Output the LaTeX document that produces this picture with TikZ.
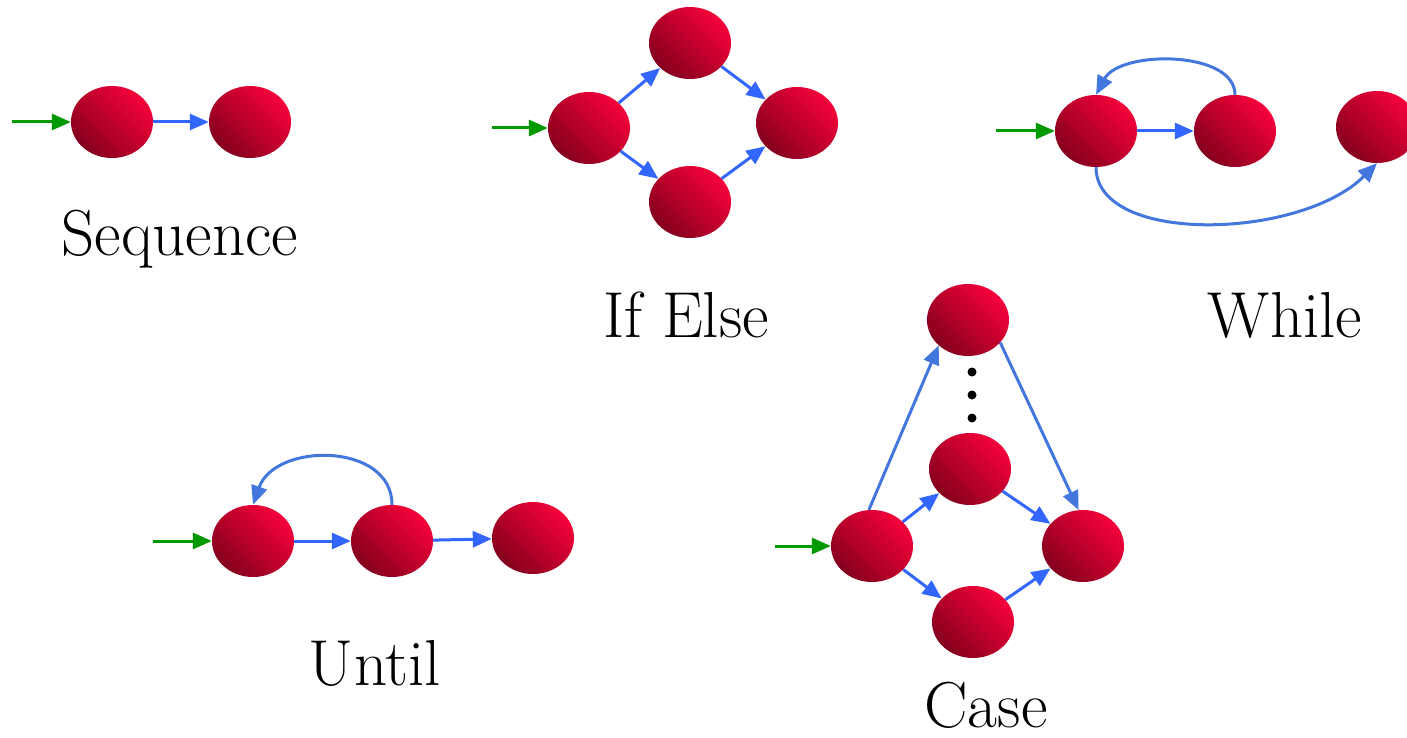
\documentclass[tikz,border=0pt]{standalone}
\usepackage{fontspec}
\usetikzlibrary{shapes.geometric,arrows.meta}
\definecolor{redhi}{HTML}{F6003A}
\definecolor{redlo}{HTML}{85001E}
\definecolor{edgeblue}{HTML}{3366FF}
\definecolor{curveblue}{HTML}{4477DD}
\definecolor{entrygreen}{HTML}{009900}
\tikzset{
  st/.style={ellipse, minimum width=82pt, minimum height=72pt, inner sep=0pt,
    bottom color=redlo, top color=redhi, shading angle=-45},
  flow/.style={draw=edgeblue, line width=3pt, -{Triangle[length=19pt,width=16pt]}},
  loopedge/.style={draw=curveblue, line width=3pt, -{Triangle[length=19pt,width=16pt]}},
  entry/.style={draw=entrygreen, line width=3pt, -{Triangle[length=19pt,width=16pt]}},
  lbl/.style={font=\rmfamily\fontsize{65}{70}\selectfont, inner sep=0pt, anchor=base},
  dot/.style={fill=black}
}
\begin{document}
\begin{tikzpicture}[x=1pt,y=-1pt]
\useasboundingbox (0,0) rectangle (1407,738);
% Sequence
\node[st] (sa) at (112,122) {};
\node[st] (sb) at (250,122) {};
\coordinate (sin) at (12,122);
\draw[entry] (sin) -- (sa);
\draw[flow] (sa) -- (sb);
\node[lbl] (tseq) at (180,255) {Sequence};
% If Else
\node[st] (il) at (589,128) {};
\node[st] (it) at (690,43) {};
\node[st] (ib) at (690,202) {};
\node[st] (ir) at (797,123) {};
\coordinate (iin) at (492,128);
\draw[entry] (iin) -- (il);
\draw[flow] (il) -- (it);
\draw[flow] (il) -- (ib);
\draw[flow] (it) -- (ir);
\draw[flow] (ib) -- (ir);
\node[lbl] (tif) at (686,337) {If Else};
% While
\node[st] (w1) at (1096,131) {};
\node[st] (w2) at (1235,131) {};
\node[st] (w3) at (1377,127) {};
\coordinate (win) at (996,131);
\draw[entry] (win) -- (w1);
\draw[flow] (w1) -- (w2);
\draw[loopedge] (w2.north) .. controls (1235,50) and (1120,50) .. (w1.north);
\draw[loopedge] (w1.south) .. controls (1096,245) and (1300,240) .. (w3.south);
\node[lbl] (twh) at (1285,337) {While};
% Until
\node[st] (u1) at (253,541) {};
\node[st] (u2) at (392,541) {};
\node[st] (u3) at (533,538) {};
\coordinate (uin) at (153,541);
\draw[entry] (uin) -- (u1);
\draw[flow] (u1) -- (u2);
\draw[flow] (u2) -- (u3);
\draw[loopedge] (u2.north) .. controls (392,442) and (275,442) .. (u1.north);
\node[lbl] (tun) at (375,685) {Until};
% Case
\node[st] (c1) at (872,546) {};
\node[st] (ct) at (968,320) {};
\node[st] (cm) at (970,469) {};
\node[st] (cb) at (973,622) {};
\node[st] (cr) at (1083,546) {};
\coordinate (cin) at (775,546);
\draw[entry] (cin) -- (c1);
\draw[loopedge] (c1.95) -- (ct.221);
\draw[loopedge] (ct.-35) -- (cr.97);
\draw[flow] (c1) -- (cm);
\draw[flow] (cm) -- (cr);
\draw[flow] (c1) -- (cb);
\draw[flow] (cb) -- (cr);
\fill[dot] (972,372) circle (4.5);
\fill[dot] (972,395) circle (4.5);
\fill[dot] (972,418) circle (4.5);
\node[lbl] (tcase) at (986,727) {Case};
\end{tikzpicture}
\end{document}
